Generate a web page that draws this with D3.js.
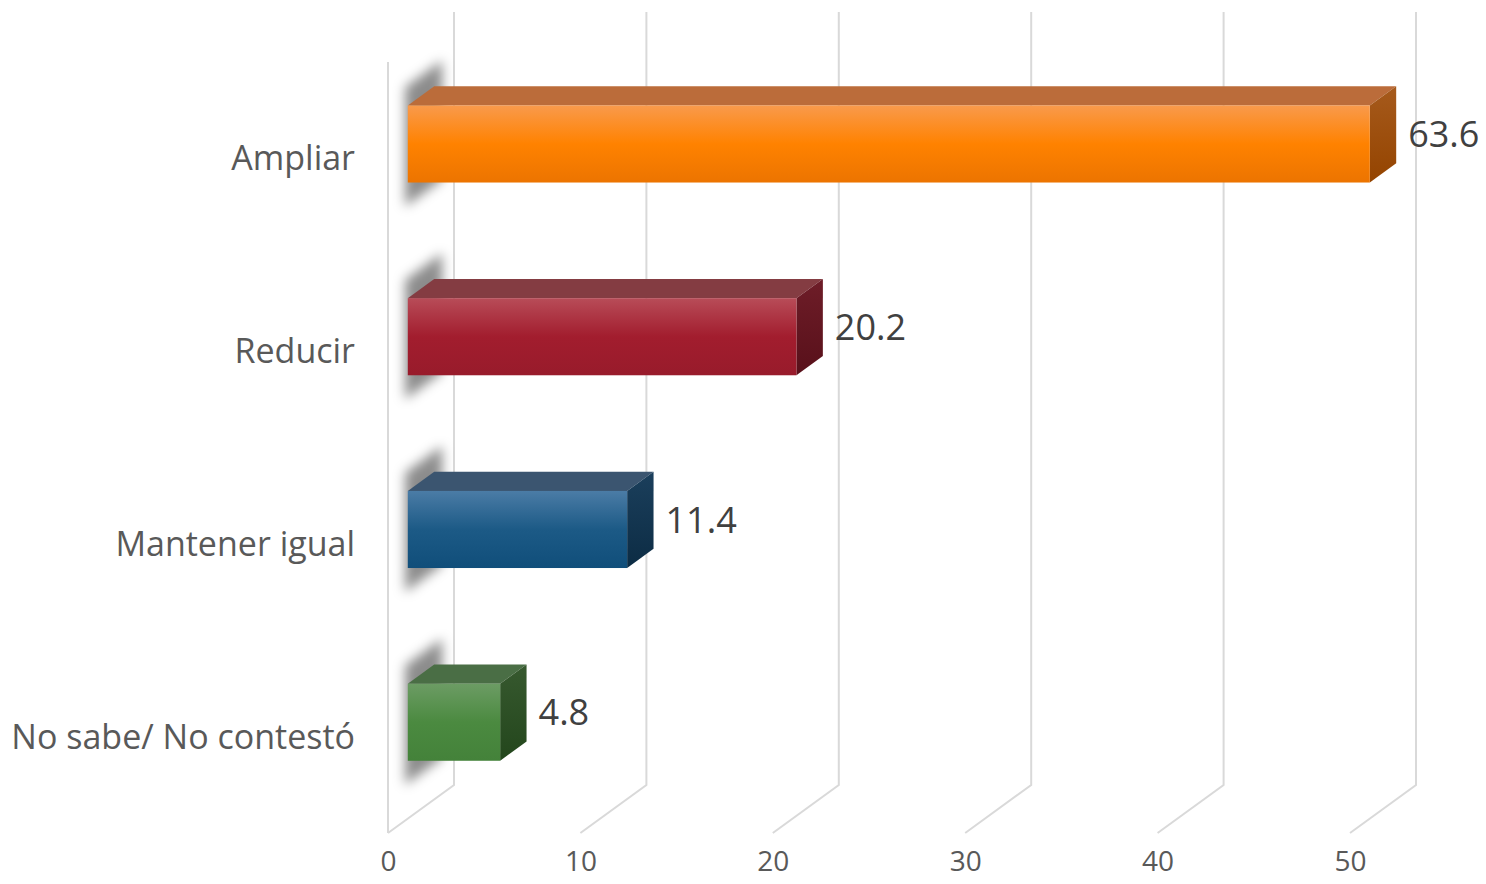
<!DOCTYPE html>
<html>
<head>
<meta charset="utf-8">
<script src="https://cdn.jsdelivr.net/npm/d3@7"></script>
<style>
  html, body { margin: 0; padding: 0; background: #fff; }
  svg text { font-family: "Open Sans", "Liberation Sans", sans-serif; }
</style>
</head>
<body>
<figure style="margin:0"></figure>
<script>
const categories = ["Ampliar", "Reducir", "Mantener igual", "No sabe/ No contestó"]
const values = [63.6, 20.2, 11.4, 4.8]
const tickValues = [0, 10, 20, 30, 40, 50]

// face colours per bar: [front top, front mid, front bottom, top face, side top, side bottom]
const barColors = [
    ["#f99a4c", "#ff8200", "#ec7400", "#bb6c3a", "#a65a1c", "#944400"],
    ["#b84c58", "#a21d2e", "#981b2b", "#843c42", "#6e1d28", "#58101a"],
    ["#4b7ca6", "#1c5a86", "#104e7a", "#3b5570", "#1b3f5c", "#0c2c44"],
    ["#6c9c64", "#4b8a40", "#44823a", "#4a6e45", "#37592f", "#23461c"]
]

const svg = d3.select("figure").append("svg")
    .attr("width", 1486).attr("height", 884)
    .attr("viewBox", "0 0 1486 884"),
    depth = {dx: 66, dy: 48},
    x = d3.scaleLinear().domain([0, 50]).range([388, 1350]),
    y = d3.scaleBand().domain(categories).range([62, 833]).paddingInner(0.6).paddingOuter(0.3)

// 3d projection: value, front-plane y, depth 0..1
const P = (v, yy, z) => [x(v) + z * depth.dx, yy - z * depth.dy]
const poly = pts => pts.map(p => p.join(",")).join(" ")

const defs = svg.append("defs")
defs.append("filter").attr("id", "blur").attr("x", "-50%").attr("y", "-50%").attr("width", "200%").attr("height", "200%")
    .append("feGaussianBlur").attr("stdDeviation", 6)

barColors.forEach((c, i) => {
    const gf = defs.append("linearGradient").attr("id", "front" + i).attr("x1", 0).attr("x2", 0).attr("y1", 0).attr("y2", 1)
    gf.append("stop").attr("offset", "0%").attr("stop-color", c[0])
    gf.append("stop").attr("offset", "50%").attr("stop-color", c[1])
    gf.append("stop").attr("offset", "100%").attr("stop-color", c[2])
    const gs = defs.append("linearGradient").attr("id", "side" + i).attr("x1", 0).attr("x2", 0).attr("y1", 0).attr("y2", 1)
    gs.append("stop").attr("offset", "0%").attr("stop-color", c[4])
    gs.append("stop").attr("offset", "100%").attr("stop-color", c[5])
})

// gridlines on the back wall and floor
const grid = svg.append("g").attr("stroke", "#d9d9d9").attr("stroke-width", 2).attr("fill", "none")
grid.selectAll("path.grid")
    .data(tickValues)
    .enter()
    .append("path").classed("grid", true)
    .attr("d", d => {
        const top = P(d, y.range()[0] - 2, 1), bot = P(d, y.range()[1], 1), front = P(d, y.range()[1], 0)
        return `M${top}L${bot}L${front}`
    })
// left wall front edge
grid.append("line")
    .attr("x1", x(0)).attr("x2", x(0))
    .attr("y1", y.range()[0]).attr("y2", y.range()[1])

// blurred shadows cast on the left wall
svg.append("g").attr("filter", "url(#blur)")
    .selectAll("polygon")
    .data(categories)
    .enter()
    .append("polygon")
    .attr("fill", "#000").attr("fill-opacity", 0.45)
    .attr("points", d => {
        const t = y(d) - 20, b = y(d) + y.bandwidth() + 22
        return poly([P(0, t, 0.26), P(0, t, 0.82), P(0, b, 0.82), P(0, b, 0.26)])
    })

// bars
const z0 = 0.3, z1 = 0.7
const bars = svg.append("g")
    .selectAll("g.bar")
    .data(categories.map((c, i) => ({cat: c, value: values[i], i})))
    .enter()
    .append("g").classed("bar", true)

const vEnd = d => Math.min(d.value, x.domain()[1])

bars.append("polygon")
    .attr("fill", d => barColors[d.i][3])
    .attr("points", d => {
        const t = y(d.cat)
        return poly([P(0, t, z0), P(vEnd(d), t, z0), P(vEnd(d), t, z1), P(0, t, z1)])
    })
bars.append("polygon")
    .attr("fill", d => `url(#side${d.i})`)
    .attr("points", d => {
        const t = y(d.cat), b = t + y.bandwidth(), v = vEnd(d)
        return poly([P(v, t, z0), P(v, t, z1), P(v, b, z1), P(v, b, z0)])
    })
bars.append("rect")
    .attr("fill", d => `url(#front${d.i})`)
    .attr("x", d => P(0, y(d.cat), z0)[0])
    .attr("y", d => P(0, y(d.cat), z0)[1])
    .attr("width", d => x(vEnd(d)) - x(0))
    .attr("height", y.bandwidth())

// value labels
bars.append("text")
    .text(d => d.value.toFixed(1))
    .attr("x", d => P(vEnd(d), 0, z1)[0] + 12)
    .attr("y", d => P(0, y(d.cat) + y.bandwidth() / 2, 0.5)[1] + 3)
    .attr("dominant-baseline", "middle")
    .attr("fill", "#404040")
    .style("font-size", "36px")

// category labels
svg.append("g")
    .selectAll("text")
    .data(categories)
    .enter()
    .append("text")
    .text(d => d)
    .attr("x", x(0) - 33)
    .attr("y", d => y(d) + y.bandwidth() / 2 + 3)
    .attr("text-anchor", "end")
    .attr("dominant-baseline", "middle")
    .attr("fill", "#595959")
    .style("font-size", "34px")

// value axis
const axis = svg.append("g").attr("transform", `translate(0,${y.range()[1] + 31})`)
    .call(d3.axisBottom(x).tickValues(tickValues).tickSize(0).tickPadding(0))
axis.selectAll("text")
    .attr("dy", null)
    .attr("dominant-baseline", "middle")
    .attr("fill", "#595959").style("font-size", "28px")
axis.select(".domain").remove()
</script>
</body>
</html>
